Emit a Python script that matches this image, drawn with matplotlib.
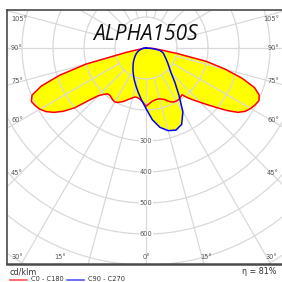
import numpy as np
import matplotlib
matplotlib.use('Agg')
import matplotlib.pyplot as plt

# photometric data, cd/klm
# C0/C180 plane read at 2.5 deg steps, C90/C270 at 5 deg steps
gamma_r = np.arange(0, 92.5, 2.5)
c0 = [188, 182, 176, 172, 170, 169, 170, 173, 177, 185, 192, 196, 197, 197, 194, 190,
      210, 228, 248, 272, 300, 332, 362, 380, 390, 397, 402, 395, 372, 325, 265, 200,
      100, 50, 28, 12, 0]
c180 = [188, 178, 170, 165, 162, 162, 166, 172, 178, 186, 192, 198, 201, 199, 195, 192,
        193, 203, 218, 250, 300, 335, 362, 382, 395, 403, 408, 398, 360, 292, 200, 65,
        15, 8, 5, 2, 0]
gamma_b = np.arange(0, 95, 5)
c90 = [195, 232, 260, 276, 282, 272, 238, 185, 145, 115, 98, 86, 76, 68, 62, 56, 45, 25, 0]
c270 = [195, 168, 145, 126, 110, 96, 84, 73, 64, 56, 48, 42, 36, 30, 24, 18, 12, 6, 0]

title = 'ALPHA150S'
unit = 'cd/klm'
eta = 'η = 81%'
ring_labels = [300, 400, 500, 600]
side_angles = [105, 90, 75, 60, 45]
bottom_angles = [30, 15, 0, 15, 30]

# layout (pixels of the 282x282 image)
W = 282
cx, cy = 146, 48          # pole of the diagram
scale = 0.31              # px per cd/klm


def px(x, y):
    return (x - cx) / scale, (cy - y) / scale


def lobe(gamma, left, right):
    g = np.radians(np.concatenate([-gamma[::-1], gamma[1:]]))
    r = np.concatenate([np.array(left)[::-1], np.array(right)[1:]])
    return r * np.sin(g), -r * np.cos(g)


fig = plt.figure(figsize=(2.82, 2.82), dpi=100)
fig.patch.set_facecolor('white')
ax = fig.add_axes([7 / W, 1 - 264 / W, 277 / W, 254 / W])
x0, y0 = px(7, 264)
x1, y1 = px(284, 10)
ax.set_xlim(x0, x1)
ax.set_ylim(y0, y1)
ax.set_xticks([])
ax.set_yticks([])
for s in ['top', 'left', 'bottom', 'right']:
    ax.spines[s].set_color('#4a4a4a')
ax.spines['top'].set_linewidth(1.2)
ax.spines['left'].set_linewidth(1.2)
ax.spines['bottom'].set_linewidth(1.8)

# grid
grid_c = '#d9d9d9'
t = np.linspace(0, 2 * np.pi, 400)
for rr in range(100, 1000, 100):
    ax.plot(rr * np.cos(t), rr * np.sin(t), color=grid_c, lw=0.9, zorder=2)
for a in range(0, 360, 15):
    ar = np.radians(a)
    ax.plot([100 * np.sin(ar), 1200 * np.sin(ar)], [-100 * np.cos(ar), -1200 * np.cos(ar)],
            color=grid_c, lw=0.9, zorder=2)

# curves
xr, yr = lobe(gamma_r, c180, c0)
xb, yb = lobe(gamma_b, c270, c90)
ax.fill(xr, yr, color='#ffff00', zorder=1, lw=0)
ax.fill(xb, yb, color='#ffff00', zorder=1, lw=0)
ax.plot(xr, yr, color='#ff0000', lw=1.1, zorder=3, solid_joinstyle='round')
ax.plot(xb, yb, color='#0000ff', lw=1.1, zorder=3, solid_joinstyle='round')

# labels
lab = dict(fontsize=4.8, color='#555555', zorder=5)
for rv in ring_labels:
    ax.text(0, -rv, str(rv), ha='center', va='center',
            bbox=dict(facecolor='white', edgecolor='none', pad=0.3), **lab)
side_y = [19, 48, 81, 120, 173]
for a, yy in zip(side_angles, side_y):
    ax.text(*px(11, yy), '%d°' % a, ha='left', va='center', **lab)
    ax.text(*px(279, yy), '%d°' % a, ha='right', va='center', **lab)
bottom_x = [17, 60, 146, 206, 271]
for a, xx in zip(bottom_angles, bottom_x):
    ax.text(*px(xx, 257), '%d°' % a, ha='center', va='center', **lab)

ax.text(*px(145, 34), title, ha='center', va='center', fontsize=15,
        style='italic', family='Open Sans', color='#111111', zorder=6)

fig.text(9 / W, 1 - 272 / W, unit, fontsize=5.8, color='#333333', va='center')
fig.text(276 / W, 1 - 272 / W, eta, fontsize=5.8, color='#333333', va='center', ha='right')
fig.lines.append(plt.Line2D([10 / W, 27 / W], [1 - 280 / W] * 2, color='#ff5555', lw=1.2,
                            transform=fig.transFigure))
fig.lines.append(plt.Line2D([67 / W, 84 / W], [1 - 280 / W] * 2, color='#5555ff', lw=1.2,
                            transform=fig.transFigure))
fig.text(31 / W, 1 - 279 / W, 'C0 - C180', fontsize=4.8, color='#333333', va='center')
fig.text(88 / W, 1 - 279 / W, 'C90 - C270', fontsize=4.8, color='#333333', va='center')

fig.savefig('out.png', dpi=100)
